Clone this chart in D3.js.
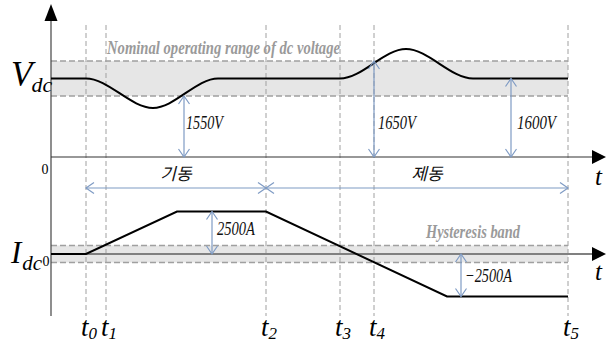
<!DOCTYPE html>
<html>
<head>
<meta charset="utf-8">
<script src="https://cdn.jsdelivr.net/npm/d3@7"></script>
<style>
  html, body { margin: 0; padding: 0; background: #fff; }
  svg { display: block; }
</style>
</head>
<body>
<svg id="chart" width="613" height="344"></svg>
<script>
// Time instants (arbitrary time units) and their labels
const eventNames = ["t0", "t1", "t2", "t3", "t4", "t5"];
const eventTimes = [0, 1, 9, 12.7, 14.4, 24.1];
const timeStart = -1.75;
const timeEnd = 25.95;

// DC-link voltage trajectory (V)
const vdcTimes  = [-1.75, 0, 3.35, 6.6, 12.7, 16, 19.35, 24.1];
const vdcValues = [1600, 1600, 1516, 1600, 1600, 1684, 1600, 1600];
const vdcBand = [1550, 1650];

// DC current trajectory (A)
const idcTimes  = [-1.75, 0, 4.55, 9, 18.05, 24.1];
const idcValues = [0, 0, 2500, 2500, -2500, -2500];
const hystBand = [-500, 500];

// Value annotations
const vdcMarks = [
  { t: 4.9,   v: 1550, label: "1550V" },
  { t: 14.4,  v: 1650, label: "1650V" },
  { t: 21.25, v: 1600, label: "1600V" }
];
const idcMarks = [
  { t: 6.3,   v: 2500,  label: "2500A" },
  { t: 18.75, v: -2500, label: "\u22122500A" }
];

// Operating phases
const phaseNames = ["기동", "제동"];
const phaseStart = [0, 9];
const phaseEnd   = [9, 24.1];

const SERIF = "'Liberation Serif', 'Times New Roman', 'DejaVu Serif', serif";

const svg = d3.select("#chart");

const x = d3.scaleLinear().domain([timeStart, timeEnd]).range([51, 605]);
const yV = d3.scaleLinear().domain([1500, 1700]).range([113.5, 43.5]);
const yI = d3.scaleLinear().domain([-2500, 2500]).range([296.5, 211.5]);
const vZeroY = 157;          // broken voltage axis: baseline drawn separately
const bandRight = x(eventTimes[5]);
const annColor = "#7f9bc4";
const dashGrey = "#a0a0a0";

function serifText(xx, yy, size) {
  return svg.append("text")
    .attr("x", xx).attr("y", yy)
    .attr("font-family", SERIF).attr("font-style", "italic")
    .attr("font-size", size).attr("fill", "#000");
}

// --- bands ---
function band(y0, y1) {
  svg.append("rect")
    .attr("x", x(timeStart)).attr("y", y1)
    .attr("width", bandRight - x(timeStart)).attr("height", y0 - y1)
    .attr("fill", "#e6e6e6");
  [y0, y1].forEach(yy => svg.append("line")
    .attr("x1", x(timeStart)).attr("x2", bandRight)
    .attr("y1", yy).attr("y2", yy)
    .attr("stroke", dashGrey).attr("stroke-width", 1.3)
    .attr("stroke-dasharray", "6,3"));
}
band(yV(vdcBand[0]), yV(vdcBand[1]));
band(yI(hystBand[0]), yI(hystBand[1]));

// --- vertical event lines ---
svg.selectAll("line.evt").data(eventTimes).join("line")
  .attr("class", "evt")
  .attr("x1", d => x(d)).attr("x2", d => x(d))
  .attr("y1", 25).attr("y2", 316)
  .attr("stroke", dashGrey).attr("stroke-width", 1)
  .attr("stroke-dasharray", "5,3");

// --- axes ---
svg.append("line").attr("x1", 51).attr("x2", 51).attr("y1", 18).attr("y2", 316)
  .attr("stroke", "#444").attr("stroke-width", 1.2);
svg.append("path").attr("d", "M51,4 L44.5,21 L57.5,21 Z").attr("fill", "#000");

svg.append("line").attr("x1", 51).attr("x2", 594).attr("y1", vZeroY).attr("y2", vZeroY)
  .attr("stroke", "#333").attr("stroke-width", 1.2);
svg.append("path").attr("d", `M606,${vZeroY} L592,${vZeroY - 7} L592,${vZeroY + 7} Z`).attr("fill", "#000");

const iZeroY = yI(0);
svg.append("line").attr("x1", 51).attr("x2", 594).attr("y1", iZeroY).attr("y2", iZeroY)
  .attr("stroke", "#808080").attr("stroke-width", 2);
svg.append("path").attr("d", `M606,${iZeroY} L592,${iZeroY - 7} L592,${iZeroY + 7} Z`).attr("fill", "#000");

// --- curves ---
const vLine = d3.line().x(d => x(d[0])).y(d => yV(d[1])).curve(d3.curveMonotoneX);
svg.append("path").datum(d3.zip(vdcTimes, vdcValues))
  .attr("d", vLine).attr("fill", "none").attr("stroke", "#000").attr("stroke-width", 2);

const iLine = d3.line().x(d => x(d[0])).y(d => yI(d[1]));
svg.append("path").datum(d3.zip(idcTimes, idcValues))
  .attr("d", iLine).attr("fill", "none").attr("stroke", "#000").attr("stroke-width", 2);

// --- double-headed annotation arrows ---
function chevron(px, py, dx, dy) {
  // open arrowhead at (px,py) pointing in direction (dx,dy)
  const L = 8, W = 5.5;
  const nx = -dy, ny = dx;
  const bx = px - dx * L, by = py - dy * L;
  svg.append("path")
    .attr("d", `M${bx + nx * W},${by + ny * W} L${px},${py} L${bx - nx * W},${by - ny * W}`)
    .attr("fill", "none").attr("stroke", annColor).attr("stroke-width", 1.2);
}
function vArrow(xx, ya, yb) {
  svg.append("line").attr("x1", xx).attr("x2", xx).attr("y1", ya).attr("y2", yb)
    .attr("stroke", annColor).attr("stroke-width", 1.2);
  const s = yb > ya ? 1 : -1;
  chevron(xx, ya, 0, -s);
  chevron(xx, yb, 0, s);
}

vdcMarks.forEach(m => vArrow(x(m.t), yV(m.v), vZeroY));
idcMarks.forEach(m => vArrow(x(m.t), yI(m.v), iZeroY));

const valLabels = [
  { xx: x(vdcMarks[0].t) + 2, yy: 129, w: 37, text: vdcMarks[0].label },
  { xx: x(vdcMarks[1].t) + 4, yy: 129, w: 38, text: vdcMarks[1].label },
  { xx: x(vdcMarks[2].t) + 6, yy: 129, w: 39, text: vdcMarks[2].label },
  { xx: x(idcMarks[0].t) + 5, yy: 235, w: 38, text: idcMarks[0].label },
  { xx: x(idcMarks[1].t) + 4, yy: 282, w: 47, text: idcMarks[1].label }
];
valLabels.forEach(l => serifText(l.xx, l.yy, 19)
  .attr("fill", "#111")
  .attr("textLength", l.w).attr("lengthAdjust", "spacingAndGlyphs")
  .text(l.text));

// --- phase arrows ---
const phaseY = 188;
phaseNames.forEach((name, i) => {
  const xa = x(phaseStart[i]), xb = x(phaseEnd[i]);
  svg.append("line").attr("x1", xa).attr("x2", xb).attr("y1", phaseY).attr("y2", phaseY)
    .attr("stroke", annColor).attr("stroke-width", 1.2);
  chevron(xa, phaseY, -1, 0);
  chevron(xb, phaseY, 1, 0);
  svg.append("text")
    .attr("x", i === 0 ? (xa + xb) / 2 : (xa + xb) / 2 + 10).attr("y", 180)
    .attr("text-anchor", "middle")
    .attr("font-family", "'Noto Sans CJK KR', sans-serif")
    .attr("font-style", "italic")
    .attr("font-size", 17).attr("fill", "#111")
    .text(name);
});

// --- band captions ---
serifText(107, 54, 18).attr("font-weight", "bold").attr("fill", "#9a9a9a")
  .attr("textLength", 233).attr("lengthAdjust", "spacingAndGlyphs")
  .text("Nominal operating range of dc voltage");
serifText(426, 238, 18).attr("font-weight", "bold").attr("fill", "#9a9a9a")
  .attr("textLength", 94).attr("lengthAdjust", "spacingAndGlyphs")
  .text("Hysteresis band");

// --- axis titles ---
const vt = serifText(11, 86, 35);
vt.append("tspan").text("V");
vt.append("tspan").attr("font-size", 22).attr("dy", 6).attr("dx", -1).text("dc");

const it = serifText(11, 263, 31);
it.append("tspan").text("I");
it.append("tspan").attr("font-size", 21).attr("dy", 7).attr("dx", 1).text("dc");

svg.append("text").attr("font-family", SERIF)
  .attr("x", 45).attr("y", 174).attr("text-anchor", "middle")
  .attr("font-size", 14).text("0");
svg.append("text").attr("font-family", SERIF)
  .attr("x", 46).attr("y", 266).attr("text-anchor", "middle")
  .attr("font-size", 14).text("0");

serifText(595, 185, 25).text("t");
serifText(595, 280, 25).text("t");

// --- event labels ---
eventNames.forEach((name, i) => {
  const g = serifText(x(eventTimes[i]) - 5, 336, 27);
  g.append("tspan").text(name[0]);
  g.append("tspan").attr("font-size", 17).attr("dy", 3).text(name.slice(1));
});
</script>
</body>
</html>
